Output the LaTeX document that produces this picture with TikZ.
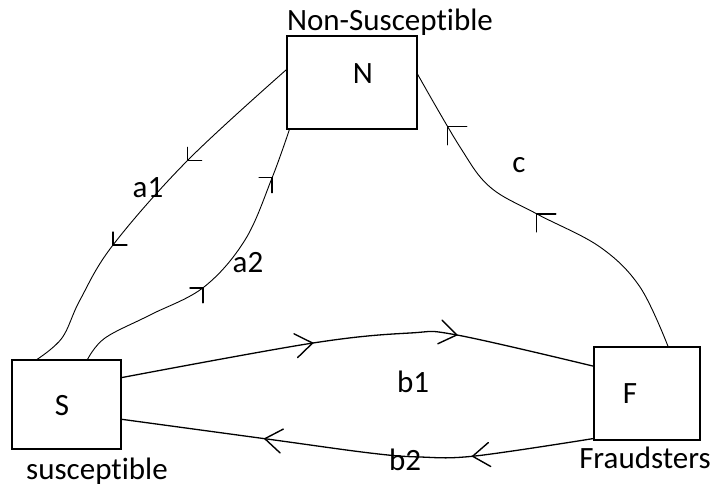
\documentclass[tikz,border=0pt]{standalone}
\usepackage{fontspec}
\setmainfont{Carlito}[Ligatures=NoCommon]
\usetikzlibrary{decorations.markings}

% open barbs, kept axis-aligned whatever the local slope of the curve
\newcommand\tipDownLeft{\pgftransformresetnontranslations
  \draw[barb] (0pt,13pt) -- (0pt,0pt) -- (14pt,0pt);}
\newcommand\tipUpRight{\pgftransformresetnontranslations
  \draw[barb] (-13pt,0pt) -- (0pt,0pt) -- (0pt,-15pt);}
\newcommand\tipUpLeft{\pgftransformresetnontranslations
  \draw[barb] (19pt,0pt) -- (0pt,0pt) -- (0pt,-18pt);}
% chevron that follows the curve
\newcommand\tipAlong{\draw[barb] (-17pt,12pt) -- (0pt,0pt) -- (-17pt,-12pt);}

\tikzset{
  state/.style={draw, line width=1.4pt, inner sep=0pt},
  txt/.style={inner sep=0pt, anchor=base, font=\fontsize{31}{37}\selectfont},
  flow/.style={line width=0.9pt, postaction={decorate}},
  bflow/.style={line width=1.3pt, postaction={decorate}},
  barb/.style={line width=1.4pt, line cap=round},
  twotips/.style n args={3}{decoration={markings,
      mark=at position #1 with {#3},
      mark=at position #2 with {#3}}}
}

\begin{document}
\begin{tikzpicture}[x=1pt, y=-1pt]
  \useasboundingbox (0,0) rectangle (715,491);

  % compartments
  \node[state, minimum width=130pt, minimum height=93pt] (N) at (352,82.5) {};
  \node[state, minimum width=109pt, minimum height=89pt] (S) at (66.5,404.5) {};
  \node[state, minimum width=106pt, minimum height=93pt] (F) at (647,393.5) {};

  \node[txt] (Nletter) at (363,83) {N};
  \node[txt] (Sletter) at (62,415) {S};
  \node[txt] (Fletter) at (630,403) {F};

  \node[txt] (Ntitle) at (390,30) {Non-Susceptible};
  \node[txt] (Stitle) at (97,479) {susceptible};
  \node[txt] (Ftitle) at (645,468) {Fraudsters};

  % N -> S
  \draw[flow, twotips={134pt}{247pt}{\tipDownLeft}]
    plot[smooth, tension=0.6] coordinates {(N.169) (188,160) (113,245)
      (80,300) (62,338) (S.123)};
  % S -> N
  \draw[flow, twotips={138pt}{270pt}{\tipUpRight}]
    plot[smooth, tension=0.6] coordinates {(S.65) (105,338) (150,315)
      (204,287) (245,240) (272,178) (N.217)};
  % F -> N
  \draw[flow, twotips={194pt}{322pt}{\tipUpLeft}]
    plot[smooth, tension=0.6] coordinates {(F.66) (640,287) (600,247)
      (537,214) (490,187) (460,147) (N.7)};
  % S -> F
  \draw[bflow, twotips={194pt}{339pt}{\tipAlong}]
    plot[smooth, tension=0.6] coordinates {(S.26) (313,343) (410,333)
      (457,335) (F.153)};
  % F -> S
  \draw[bflow, twotips={122pt}{331pt}{\tipAlong}]
    plot[smooth, tension=0.6] coordinates {(F.220) (475,456) (420,457)
      (370,453) (267,439) (S.345)};

  % rates
  \node[txt] (ra1) at (148,197) {a1};
  \node[txt] (ra2) at (248,272) {a2};
  \node[txt] (rb1) at (413,392) {b1};
  \node[txt] (rb2) at (405,470) {b2};
  \node[txt] (rc)  at (519,172) {c};
\end{tikzpicture}
\end{document}
